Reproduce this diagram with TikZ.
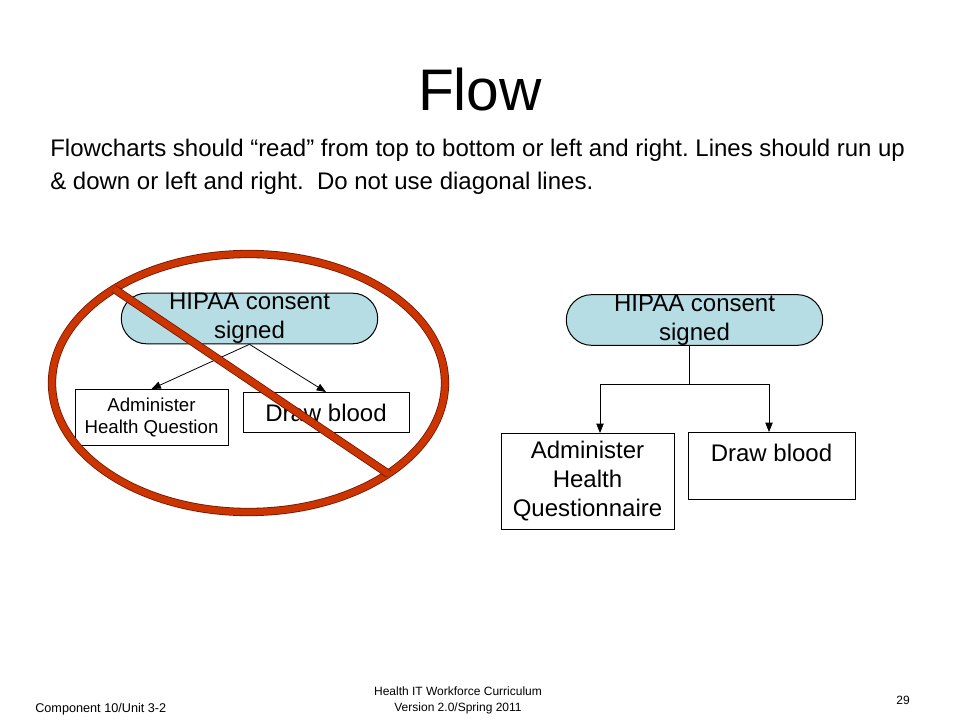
\documentclass[tikz,border=0pt]{standalone}
\usepackage{fontspec}
\setmainfont{Liberation Sans}
\usetikzlibrary{shapes,arrows.meta,positioning}
\definecolor{hipaablue}{RGB}{183,221,228}
\definecolor{banred}{RGB}{204,52,0}
\definecolor{banedge}{RGB}{110,22,0}
\tikzstyle{ovl} = [rounded rectangle,draw,fill=hipaablue,line width=0.75pt,align=center,inner ysep=0pt,minimum width=199pt,minimum height=38pt,font=\fontsize{18}{21.75}\selectfont]
\tikzstyle{arr} = [-{Triangle[length=7pt,width=5.5pt]},line width=0.6pt]

\begin{document}
\frenchspacing
\begin{tikzpicture}
		[
		x=0.75pt,y=-0.75pt,
		block/.style={
		draw,
		rectangle,
		line width=0.75pt,
		align=center,
		anchor=north,
		font=\fontsize{18}{21.75}\selectfont},
		ban/.style={
		draw=banedge,
		double=banred,
		double distance=5pt,
		line width=0.6pt}
		]
		\useasboundingbox (0,0) rectangle (960,720);
		\node[font=\fontsize{44}{50}\selectfont,anchor=base](title) at (480,111) {Flow};
		\node[anchor=north west,inner sep=0pt,text width=641pt,align=justify,font=\fontsize{18}{24.75}\selectfont](intro) at (50,139) {Flowcharts should “read” from top to bottom or left and right. Lines should run up \& down or left and right.\ \ Do not use diagonal lines.};
		% wrong way
		\node[ovl](hipaa_bad) at (249.5,318.5) {HIPAA consent\\signed};
		\node[block,minimum width=114.75pt,minimum height=42pt,font=\fontsize{14}{17}\selectfont](admin_bad) at (151.5,389) {Administer\\Health Question};
		\node[block,minimum width=124.5pt,minimum height=30pt](blood_bad) at (326,392) {Draw blood};
		\draw[arr] (hipaa_bad.south) -- (admin_bad.north);
		\draw[arr] (hipaa_bad.south) -- (blood_bad.north);
		\node[ellipse,ban,inner sep=0pt,minimum width=294.75pt,minimum height=193.5pt](no_sign) at (248.5,383) {};
		\draw[ban] (no_sign.145) -- (no_sign.-33);
		% right way
		\node[ovl](hipaa) at (694.5,320) {HIPAA consent\\signed};
		\node[block,minimum width=129.75pt,minimum height=72pt](admin) at (587.5,433) {Administer\\Health\\Questionnaire};
		\node[block,minimum width=125.25pt,inner ysep=0pt,text height=21.5pt,text depth=28.75pt](blood) at (771.5,432) {Draw blood};
		\coordinate (stem) at (689,384);
		\coordinate (fork_l) at (600,384);
		\coordinate (fork_r) at (769,384);
		\draw[line width=0.6pt] (hipaa.south -| stem) -- (stem);
		\draw[line width=0.6pt] (fork_l) -- (fork_r);
		\draw[arr] (fork_l) -- (fork_l |- admin.north);
		\draw[arr] (fork_r) -- (fork_r |- blood.north);
		% footer
		\node[anchor=base west,inner sep=0pt,font=\fontsize{9.5}{11}\selectfont](unit) at (35,712) {Component 10/Unit 3-2};
		\node[anchor=north,inner sep=0pt,align=center,font=\fontsize{9}{12}\selectfont](course) at (458,687) {Health IT Workforce Curriculum\\Version 2.0/Spring 2011};
		\node[font=\fontsize{9}{11}\selectfont](page) at (903,700) {29};
		\end{tikzpicture}
\end{document}
